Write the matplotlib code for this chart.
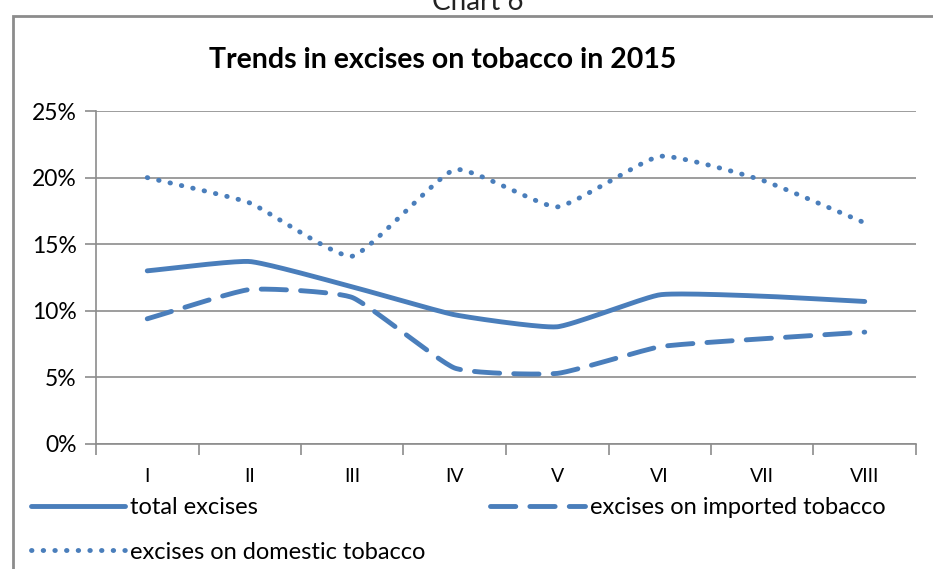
import numpy as np
import matplotlib
matplotlib.use("Agg")
import matplotlib.pyplot as plt
from matplotlib.patches import Rectangle

months = ["I", "II", "III", "IV", "V", "VI", "VII", "VIII"]
total_excises = [13.0, 13.7, 11.8, 9.7, 8.8, 11.2, 11.1, 10.7]
imported_excises = [9.4, 11.6, 11.0, 5.7, 5.3, 7.3, 7.9, 8.4]
domestic_excises = [20.0, 18.1, 14.1, 20.6, 17.8, 21.6, 19.8, 16.6]

blue = "#4a7ebb"
grey = "#8c8c8c"
plt.rcParams["font.family"] = ["Lato", "DejaVu Sans"]


def smooth(xs, ys, tension=0.55, steps=30):
    # cardinal spline through the points (softened corners, passes every value)
    xs = np.asarray(xs, float)
    ys = np.asarray(ys, float)
    px = np.concatenate([[2 * xs[0] - xs[1]], xs, [2 * xs[-1] - xs[-2]]])
    py = np.concatenate([[2 * ys[0] - ys[1]], ys, [2 * ys[-1] - ys[-2]]])
    t = np.linspace(0, 1, steps, endpoint=False)
    h00 = 2 * t ** 3 - 3 * t ** 2 + 1
    h10 = t ** 3 - 2 * t ** 2 + t
    h01 = -2 * t ** 3 + 3 * t ** 2
    h11 = t ** 3 - t ** 2
    out_x, out_y = [], []
    for i in range(1, len(px) - 2):
        for p, out in ((px, out_x), (py, out_y)):
            m1 = (1 - tension) * (p[i + 1] - p[i - 1]) / 2
            m2 = (1 - tension) * (p[i + 2] - p[i]) / 2
            out.extend(h00 * p[i] + h10 * m1 + h01 * p[i + 1] + h11 * m2)
    out_x.append(xs[-1])
    out_y.append(ys[-1])
    return np.array(out_x), np.array(out_y)


fig = plt.figure(figsize=(9.33, 5.69), dpi=100)
ax = fig.add_axes([96 / 933, 1 - 444 / 569, 820 / 933, 333 / 569])

# outer chart frame
fig.patches.append(Rectangle((13 / 933, -0.1), 1.2, 1 - 16 / 569 + 0.1,
                             transform=fig.transFigure, fill=False,
                             edgecolor=grey, linewidth=2))
fig.text(478 / 933, 1 - 9.5 / 569, "Chart 6", ha="center", va="baseline",
         fontsize=20, color="#222222")

x = np.arange(len(months))
lw = 3.5
sx, sy = smooth(x, total_excises)
l1, = ax.plot(sx, sy, color=blue, lw=lw, solid_capstyle="round", label="total excises")
sx, sy = smooth(x, imported_excises)
l2, = ax.plot(sx, sy, color=blue, lw=lw, dashes=(5.2, 2.9), dash_capstyle="round",
              label="excises on imported tobacco")
sx, sy = smooth(x, domestic_excises)
l3, = ax.plot(sx, sy, color=blue, lw=lw, dashes=(0.1, 2.3), dash_capstyle="round",
              label="excises on domestic tobacco")

ax.set_xlim(-0.5, len(months) - 0.5)
ax.set_ylim(0, 25)
ax.set_yticks(np.arange(0, 26, 5))
ax.set_yticklabels([f"{v}%" for v in range(0, 26, 5)])
ax.set_xticks(np.arange(-0.5, len(months), 1))
ax.set_xticklabels([])
ax.set_xticks(x, minor=True)
ax.set_xticklabels(months, minor=True)
ax.tick_params(axis="x", which="major", length=8, color=grey, width=1.2, direction="out")
ax.tick_params(axis="x", which="minor", length=0, pad=17, labelsize=14)
ax.tick_params(axis="y", length=8, color=grey, width=1.2, labelsize=16.5, pad=6)
ax.grid(axis="y", color=grey, lw=1.2)
ax.set_axisbelow(True)
for s in ("top", "right"):
    ax.spines[s].set_visible(False)
for s in ("left", "bottom"):
    ax.spines[s].set_color(grey)
    ax.spines[s].set_linewidth(1.2)

fig.text(443 / 933, 1 - 60 / 569, "Trends in excises on tobacco in 2015",
         ha="center", va="center", fontsize=20.5, fontweight="bold")

fig.legend([l1, l3, l2], [l1.get_label(), l3.get_label(), l2.get_label()],
           ncol=2, loc="upper left", bbox_to_anchor=(31 / 933, 1 - 497 / 569),
           frameon=False, fontsize=17, handlelength=4.0, handletextpad=0.2,
           columnspacing=2.75, labelspacing=1.0, borderaxespad=0, borderpad=0)

fig.savefig("out.png", dpi=100)
